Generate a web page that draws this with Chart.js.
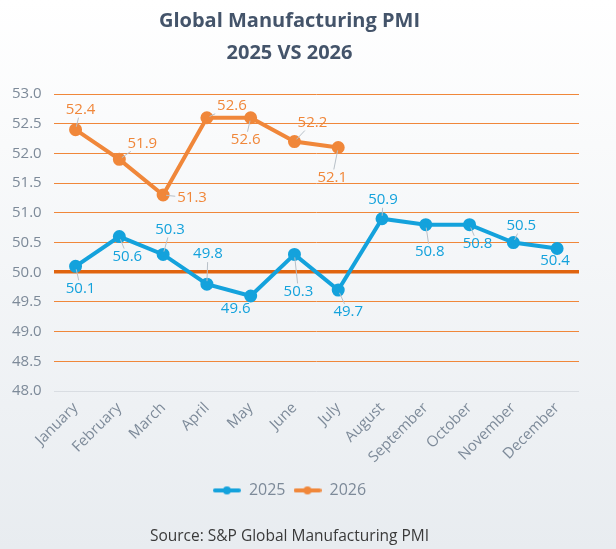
<!DOCTYPE html>
<html>
<head>
<meta charset="utf-8">
<script src="https://cdn.jsdelivr.net/npm/chart.js@4.4.1/dist/chart.umd.min.js"></script>
<style>
  html, body { margin: 0; padding: 0; background: #fff; }
  #wrap { width: 616px; height: 549px; }
</style>
</head>
<body>
<div id="wrap"><canvas id="pmi"></canvas></div>
<script>
const months = ['January', 'February', 'March', 'April', 'May', 'June', 'July',
  'August', 'September', 'October', 'November', 'December'];
const pmi2025 = [50.1, 50.6, 50.3, 49.8, 49.6, 50.3, 49.7, 50.9, 50.8, 50.8, 50.5, 50.4];
const pmi2026 = [52.4, 51.9, 51.3, 52.6, 52.6, 52.2, 52.1];

// label offsets from each point (pixels), like the manually moved Excel labels
const offs2025 = [[5, 22], [8, 20], [7, -25], [1, -30], [-15, 13], [4, 37], [10, 22],
  [1, -19], [4, 27], [8, 19], [8, -17], [-2, 12]];
const offs2026 = [[5, -20], [23, -16], [29, 3], [25, -12], [-5, 22], [18, -19], [-6, 30]];

const blue = '#14a2dc';
const orange = '#f0873a';
const font = "'Open Sans', sans-serif";

// legend marker: short line with a dot, like the Excel legend
function legendMarker(color) {
  const c = document.createElement('canvas');
  c.width = 28;
  c.height = 10;
  const x = c.getContext('2d');
  x.strokeStyle = color;
  x.fillStyle = color;
  x.lineWidth = 4;
  x.lineCap = 'round';
  x.beginPath();
  x.moveTo(2, 5);
  x.lineTo(26, 5);
  x.stroke();
  x.beginPath();
  x.arc(14, 5, 4, 0, Math.PI * 2);
  x.fill();
  return c;
}

const bgPlugin = {
  id: 'bg',
  beforeDraw(chart) {
    const { ctx, width, height } = chart;
    const g = ctx.createLinearGradient(0, 0, 0, height);
    g.addColorStop(0, '#ffffff');
    g.addColorStop(1, '#e8ecf0');
    ctx.save();
    ctx.fillStyle = g;
    ctx.fillRect(0, 0, width, height);
    ctx.restore();
  }
};

const labelPlugin = {
  id: 'pointLabels',
  afterDatasetsDraw(chart) {
    const ctx = chart.ctx;
    const offsets = [offs2025, offs2026];
    ctx.save();
    ctx.font = '15px ' + font;
    ctx.textAlign = 'center';
    ctx.textBaseline = 'middle';
    chart.data.datasets.forEach((ds, di) => {
      const meta = chart.getDatasetMeta(di);
      meta.data.forEach((pt, i) => {
        const [dx, dy] = offsets[di][i];
        const txt = ds.data[i].toFixed(1);
        const lx = pt.x + dx, ly = pt.y + dy;
        const hw = ctx.measureText(txt).width / 2 + 2, hh = 8;
        // leader line from point to label box edge
        const t = Math.min(Math.abs(dx) > 0 ? hw / Math.abs(dx) : 1, Math.abs(dy) > 0 ? hh / Math.abs(dy) : 1);
        const ex = lx - dx * t, ey = ly - dy * t;
        const len = Math.hypot(ex - pt.x, ey - pt.y);
        if (len > 9) {
          const ux = (ex - pt.x) / len, uy = (ey - pt.y) / len;
          ctx.strokeStyle = '#b8c0c8';
          ctx.lineWidth = 1;
          ctx.beginPath();
          ctx.moveTo(pt.x + ux * 3, pt.y + uy * 3);
          ctx.lineTo(ex, ey);
          ctx.stroke();
        }
        ctx.fillStyle = ds.borderColor;
        ctx.fillText(txt, lx, ly);
      });
    });
    ctx.restore();
  }
};

new Chart(document.getElementById('pmi'), {
  type: 'line',
  data: {
    labels: months,
    datasets: [
      {
        label: '2025',
        data: pmi2025,
        borderColor: blue,
        backgroundColor: blue,
        borderWidth: 4,
        pointRadius: 4.5,
        pointHoverRadius: 4.5,
        tension: 0
      },
      {
        label: '2026',
        data: pmi2026,
        borderColor: orange,
        backgroundColor: orange,
        borderWidth: 4,
        pointRadius: 4.5,
        pointHoverRadius: 4.5,
        tension: 0
      }
    ]
  },
  options: {
    responsive: true,
    maintainAspectRatio: false,
    animation: false,
    layout: { padding: { left: 0, right: 37, top: 4, bottom: 2 } },
    scales: {
      x: {
        offset: true,
        grid: { display: false, drawTicks: false },
        border: { display: false },
        ticks: {
          color: '#7d8a99',
          font: { family: font, size: 15 },
          maxRotation: 45,
          minRotation: 45,
          padding: 8
        }
      },
      y: {
        min: 48,
        max: 53,
        border: { display: false },
        grid: {
          drawTicks: false,
          color: (c) => c.tick.value === 48 ? '#d9dde2' : (c.tick.value === 50 ? '#e0640f' : orange),
          lineWidth: (c) => c.tick.value === 50 ? 3.5 : 1
        },
        ticks: {
          stepSize: 0.5,
          padding: 12,
          color: '#7d8a99',
          font: { family: font, size: 15 },
          callback: (v) => Number(v).toFixed(1)
        }
      }
    },
    plugins: {
      title: {
        display: true,
        text: ['Global Manufacturing PMI', '2025 VS 2026'],
        color: '#44546a',
        font: { family: font, size: 20, weight: 'bold', lineHeight: 1.6 },
        padding: { top: 1, bottom: 25 }
      },
      subtitle: {
        display: true,
        position: 'bottom',
        text: 'Source: S&P Global Manufacturing PMI',
        color: '#3a3a3a',
        font: { family: font, size: 15.5 },
        padding: { top: 19, bottom: 1 }
      },
      legend: {
        position: 'bottom',
        labels: {
          color: '#7d8a99',
          font: { family: font, size: 16 },
          usePointStyle: true,
          pointStyleWidth: 28,
          padding: 8,
          generateLabels(chart) {
            const items = Chart.defaults.plugins.legend.labels.generateLabels(chart);
            items.forEach((it) => { it.pointStyle = legendMarker(chart.data.datasets[it.datasetIndex].borderColor); });
            return items;
          }
        }
      },
      tooltip: { enabled: false }
    }
  },
  plugins: [bgPlugin, labelPlugin]
});
</script>
</body>
</html>
